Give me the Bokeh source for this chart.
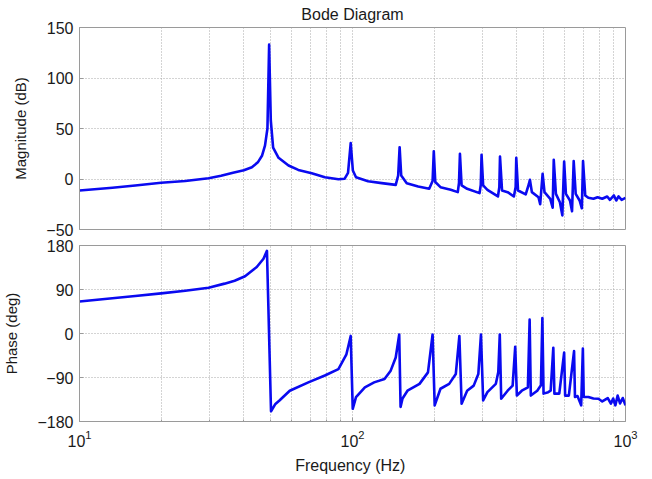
from bokeh.plotting import figure
from bokeh.layouts import column
from bokeh.models import FixedTicker, Range1d
from bokeh.embed import file_html
from bokeh.resources import INLINE

# ---------------- data ----------------
freq_mag = [10, 13.2, 16, 19.9, 24.4, 29.7, 33, 36.5, 40, 42.8, 45, 46.6, 47.8,
            48.8, 49.5, 50.2, 51.2, 53.6, 58.3, 63.3, 70.9, 79.2, 88.8, 93.5,
            96.3, 98.5, 100.3, 103, 114, 128, 144, 147, 148.8, 150.8, 158, 174,
            191, 196.5, 198.5, 201, 210, 229, 243, 245.5, 247.5, 251, 263, 292,
            295, 297, 301, 312, 341, 345, 347, 353, 370, 390, 396, 398, 404,
            431, 443, 446.5, 454, 480, 487, 497, 505, 530, 541, 546, 556, 575,
            587, 596, 605, 626, 637, 646, 657, 679, 692, 699, 712, 731, 763,
            790, 822, 857, 877, 907, 925, 943, 968, 1000]
mag_db = [-11.4, -8.7, -6.4, -3.7, -2.0, 0.8, 3.2, 6.2, 8.6, 11.7, 16.5, 23, 33,
          50, 133, 58, 31, 21, 13.4, 9, 5.8, 1.8, -0.2, 0.2,
          6, 35.5, 8.4, 1.8, -2.2, -4.1, -5.8, 3.5, 31.5, 3.5, -4.1, -7.4,
          -9.7, -2, 27.5, -3, -8.1, -10.7, -13, -4, 25, -6.4, -9.7, -14,
          -6, 24, -6.4, -10.7, -17.3, -8, 22.3, -11.4, -13, -17.3, -8, 21, -11.4,
          -15.3, -4.7, -0.8, -13, -18, -25, 5.2, -13, -19.6, -28.5, 19, -14.7, -23,
          -36, 17.3, -14.7, -21.3, -32, 17.7, -14.7, -21.3, -29, 17.7, -16.3, -18.6, -19.6,
          -18, -19.6, -17.3, -20.6, -16.3, -21.3, -17.3, -20.6, -18.6]

freq_phase = [10, 13.2, 16, 19.9, 24.4, 29.7, 34, 37, 40.4, 44.6, 47.2, 48.6,
              50.3, 52.2, 54, 58.9, 68.9, 79.2, 88.8, 95, 98.5, 100.2, 103, 111,
              120, 131, 138, 144, 148.3, 150, 152.5, 159, 176, 189, 196.5, 200,
              210, 226, 239, 246.3, 251, 263, 278, 289, 295.5, 301, 312, 335,
              342, 346.3, 350.5, 370, 386, 394.5, 400, 417, 439, 445.5, 450, 475,
              490, 496, 501, 521, 532, 544, 549, 572, 596, 601, 620, 648, 653,
              667, 688, 698, 703, 731, 763, 796, 822, 861, 884, 901, 918, 936,
              955, 977, 1000]
phase_deg = [65.3, 72, 76.8, 82, 87.6, 93.7, 102, 108, 117, 136, 153, 169,
             -159, -144, -137, -117, -100, -86, -73, -42.5, -5, -154, -130, -110,
             -100, -93, -76, -49, -2, -150, -133, -117, -103, -79.5, -2, -147,
             -113, -103, -83, -5, -143.6, -117, -106.6, -83, -2, -137, -120, -103,
             -79, -2, -133.5, -117, -106.6, -27, -126.8, -117, -110, 28.3, -127, -117,
             -106, 31.7, -123, -120, -117, -29, -123, -123, -39, -127, -127, -36, -130,
             -128, -147, -31, -130, -130, -133, -133.5, -139, -132, -143.6, -133, -147, -127,
             -143, -132, -147]

mag_ticks = [-50, 0, 50, 100, 150]
phase_ticks = [-180, -90, 0, 90, 180]
x_ticks = [10, 100, 1000]

# ---------------- styling ----------------
FONT = "Liberation Sans"
W = 645
LEFT = 77
RIGHT = W - 625
LINE_COLOR = "#0a0af0"
GRID_COLOR = "#a8a8a8"
EDGE_COLOR = "#9a9a9a"
TEXT_COLOR = "#1a1a1a"

x_minor = [t * m for t in x_ticks[:-1] for m in range(2, 10)]


def style(p):
    p.outline_line_color = EDGE_COLOR
    p.outline_line_width = 1
    p.background_fill_color = "white"
    p.border_fill_color = "white"
    for ax in p.axis:
        ax.axis_line_color = EDGE_COLOR
        ax.major_tick_line_color = EDGE_COLOR
        ax.minor_tick_line_color = EDGE_COLOR
        ax.major_tick_in = 4
        ax.major_tick_out = 0
        ax.minor_tick_in = 2
        ax.minor_tick_out = 0
        ax.major_label_text_font = FONT
        ax.major_label_text_font_size = "16px"
        ax.major_label_text_color = TEXT_COLOR
        ax.axis_label_text_font = FONT
        ax.axis_label_text_font_size = "15px"
        ax.axis_label_text_font_style = "normal"
        ax.axis_label_text_color = TEXT_COLOR
    p.xgrid.grid_line_color = GRID_COLOR
    p.xgrid.grid_line_dash = "1 2"
    p.xgrid.minor_grid_line_color = GRID_COLOR
    p.xgrid.minor_grid_line_dash = "1 2"
    p.ygrid.grid_line_color = GRID_COLOR
    p.ygrid.grid_line_dash = "1 2"
    p.yaxis.minor_tick_line_color = None
    p.yaxis.major_label_standoff = 6
    p.yaxis.axis_label_standoff = 14


p1 = figure(width=W, height=237, x_axis_type="log",
            x_range=Range1d(10, 1000), y_range=Range1d(-50, 150),
            output_backend="svg", toolbar_location=None,
            min_border_left=LEFT, min_border_right=RIGHT,
            min_border_top=27, min_border_bottom=8)
p1.line(freq_mag, mag_db, line_width=2.6, line_color=LINE_COLOR, line_join="round")
p1.xaxis.ticker = FixedTicker(ticks=x_ticks, minor_ticks=x_minor)
p1.yaxis.ticker = FixedTicker(ticks=mag_ticks)
p1.yaxis.axis_label = "Magnitude (dB)"
style(p1)
p1.xaxis.visible = False
p1.title.text = "Bode Diagram"
p1.title.align = "center"
p1.title.vertical_align = "top"
p1.title.text_font = FONT
p1.title.text_font_size = "16px"
p1.title.text_font_style = "normal"
p1.title.text_color = TEXT_COLOR
p1.title.standoff = 6

p2 = figure(width=W, height=239, x_axis_type="log",
            x_range=p1.x_range, y_range=Range1d(-180, 180),
            output_backend="svg", toolbar_location=None,
            min_border_left=LEFT, min_border_right=RIGHT,
            min_border_top=8, min_border_bottom=53)
p2.line(freq_phase, phase_deg, line_width=2.6, line_color=LINE_COLOR, line_join="round")
p2.xaxis.ticker = FixedTicker(ticks=x_ticks, minor_ticks=x_minor)
p2.yaxis.ticker = FixedTicker(ticks=phase_ticks)
p2.yaxis.axis_label = "Phase (deg)"
p2.xaxis.axis_label = "Frequency  (Hz)"
style(p2)
p2.xaxis.axis_label_text_font_size = "16px"
p2.xaxis.major_label_standoff = 8
p2.xaxis.axis_label_standoff = 7

layout = column(p1, p2)

open("out.html", "w").write(file_html(layout, INLINE))
